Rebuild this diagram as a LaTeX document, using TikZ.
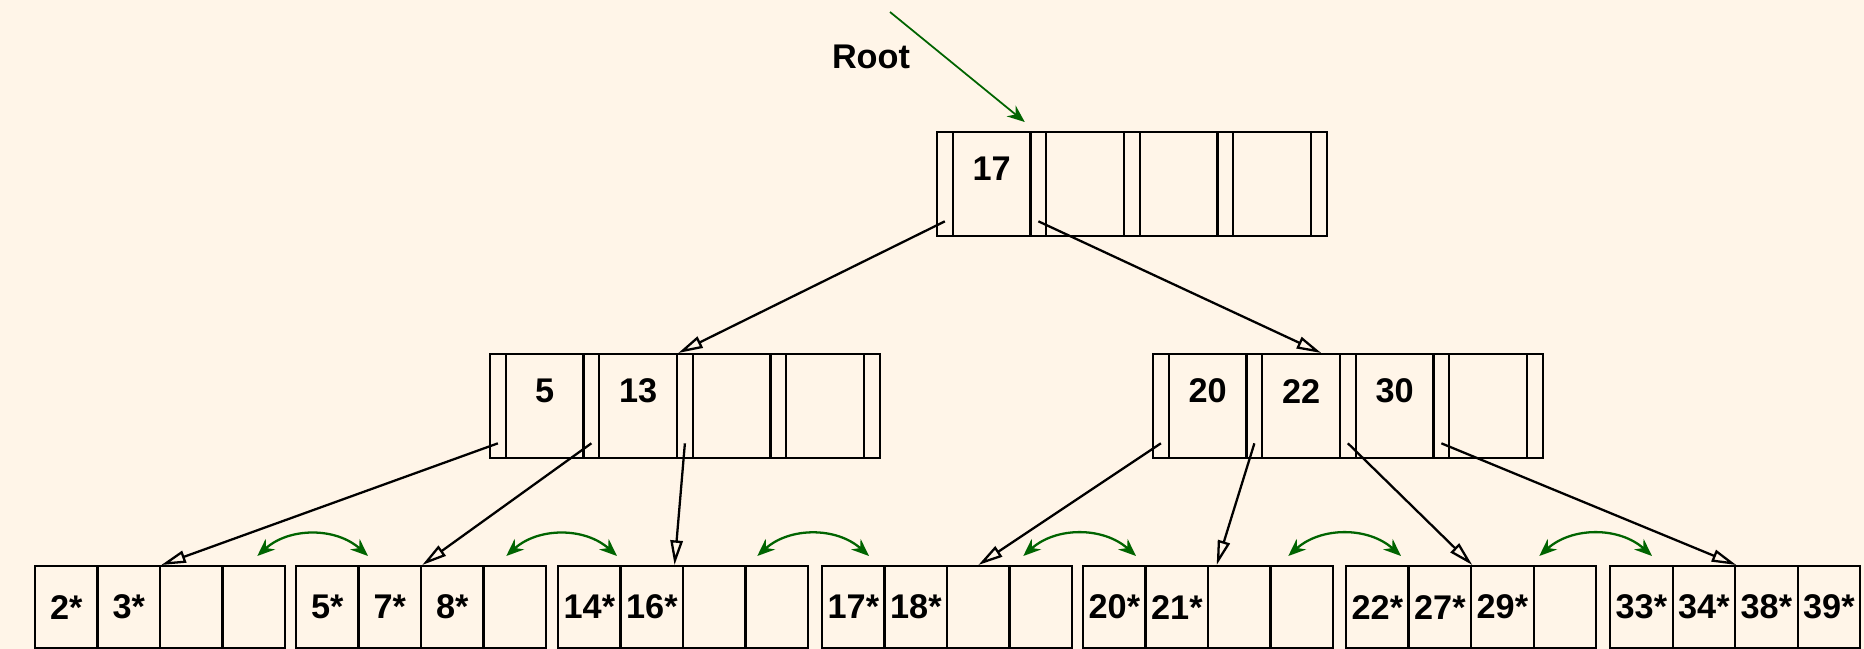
\documentclass[tikz,border=0pt]{standalone}
\usepackage{fontspec}
\setmainfont{Liberation Sans}
\usetikzlibrary{arrows.meta,calc}
\definecolor{paper}{RGB}{255,245,232}
\definecolor{linkgreen}{RGB}{0,100,0}

\begin{document}
\begin{tikzpicture}[x=0.02cm, y=-0.02cm,
        ptrcell/.style={draw, line width=1.3pt, inner sep=0pt, anchor=north west, minimum width=0.31cm, minimum height=2.08cm},
        keycell/.style={ptrcell, minimum width=1.56cm},
        leafcell/.style={draw, line width=1.3pt, inner sep=0pt, anchor=north west, minimum width=1.25cm, minimum height=1.64cm},
        keytext/.style={font=\fontsize{19.5}{22}\selectfont\bfseries, inner sep=0pt},
        childptr/.style={line width=1.3pt, -{Triangle[open, length=14pt, width=7pt]}},
        siblink/.style={linkgreen, line width=1.3pt, {Stealth[length=10pt, width=8pt]}-{Stealth[length=10pt, width=8pt]}},
        rootptr/.style={linkgreen, line width=1pt, -{Stealth[length=10pt, width=8pt]}}]
        \useasboundingbox (0,0) rectangle (1864,649);
        \fill[paper] (0,0) rectangle (1864,649);

        % index nodes
        \foreach \nm/\xl/\yt in {root/936/131, midL/489/353, midR/1152/353}
            {
                \foreach \i in {0,...,3}
                    {
                        \node (\nm-p\i) at ({\xl+93.5*\i}, \yt)[ptrcell]{};
                        \node (\nm-k\i) at ({\xl+93.5*\i+15.5}, \yt)[keycell]{};
                    }
                \node (\nm-p4) at ({\xl+374}, \yt)[ptrcell]{};
            }
        \foreach \nm/\i/\k in {root/0/17, midL/0/5, midL/1/13, midR/0/20, midR/1/22, midR/2/30}
            {
                \node (\nm-t\i) at ([yshift=0.3cm]\nm-k\i.center)[keytext]{\k};
            }

        % leaf pages
        \foreach \nm/\xl in {l1/34, l2/295, l3/557, l4/821, l5/1082, l6/1345, l7/1609}
            {
                \foreach \i in {1,...,4}
                    {
                        \node (\nm-c\i) at ({\xl+62.5*(\i-1)}, 565)[leafcell]{};
                    }
            }
        \foreach \nm/\i/\e in {l1/1/2*, l1/2/3*, l2/1/5*, l2/2/7*, l2/3/8*, l3/1/14*, l3/2/16*,
                l4/1/17*, l4/2/18*, l5/1/20*, l5/2/21*, l6/1/22*, l6/2/27*, l6/3/29*,
                l7/1/33*, l7/2/34*, l7/3/38*, l7/4/39*}
            {
                \node (\nm-e\i) at (\nm-c\i.center)[keytext]{\e};
            }

        % root label
        \node (rootlabel) at (871, 57)[keytext]{Root};
        \coordinate (rootin) at (890, 12);
        \draw[rootptr] (rootin) -- ([shift={(-7,-9)}]root-k0.north east);

        % child pointers
        \draw[childptr] ($(root-p0.south)!0.3!(root-p0.center)$) -- (midL-k1.north east);
        \draw[childptr] ($(root-p1.south)!0.3!(root-p1.center)$) -- ($(midR-k1.north west)!0.75!(midR-k1.north east)$);
        \draw[childptr] ($(midL-p0.south)!0.3!(midL-p0.center)$) -- (l1-c2.north east);
        \draw[childptr] ($(midL-p1.south)!0.3!(midL-p1.center)$) -- (l2-c2.north east);
        \draw[childptr] ($(midL-p2.south)!0.3!(midL-p2.center)$) -- ($(l3-c2.north west)!0.85!(l3-c2.north east)$);
        \draw[childptr] ($(midR-p0.south)!0.3!(midR-p0.center)$) -- (l4-c3.north);
        \draw[childptr] ($(midR-p1.south)!0.3!(midR-p1.center)$) -- ($(l5-c3.north west)!0.15!(l5-c3.north east)$);
        \draw[childptr] ($(midR-p2.south)!0.3!(midR-p2.center)$) -- (l6-c2.north east);
        \draw[childptr] ($(midR-p3.south)!0.3!(midR-p3.center)$) -- (l7-c2.north east);

        % sibling links
        \foreach \a/\b/\s/\t in {l1/l2/-29/73, l2/l3/-41/60, l3/l4/-52/48, l4/l5/-50/54, l5/l6/-46/56, l6/l7/-58/43}
            {
                \draw[siblink] ([shift={(\s,-9)}]\a-c4.north east) to[bend left=42] ([shift={(\t,-9)}]\b-c1.north west);
            }
    \end{tikzpicture}
\end{document}
